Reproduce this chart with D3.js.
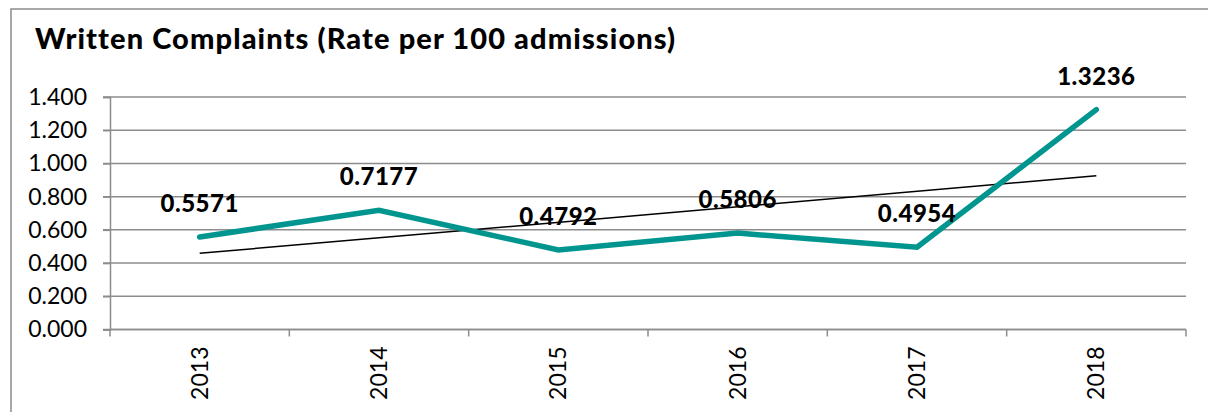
<!DOCTYPE html>
<html>
<head>
<meta charset="utf-8">
<script src="https://cdn.jsdelivr.net/npm/d3@7"></script>
<style>
  body { margin: 0; background: #fff; }
  text { font-family: Lato, "Open Sans", sans-serif; }
</style>
</head>
<body>
<div id="chart"></div>
<script>
// chart data
const years = ['2013', '2014', '2015', '2016', '2017', '2018']
const rates = [0.5571, 0.7177, 0.4792, 0.5806, 0.4954, 1.3236]
const yTicks = [0, 0.2, 0.4, 0.6, 0.8, 1.0, 1.2, 1.4]

const W = 1208, H = 412
const margin = { left: 110, right: 22, top: 97, bottom: 82 }

const svg = d3.select('#chart')
    .append('svg')
        .attr('width', W)
        .attr('height', H)

// outer frame (runs off the right and bottom edges)
svg.append('rect')
    .attr('x', 11).attr('y', 9)
    .attr('width', W).attr('height', H)
    .attr('fill', 'none')
    .attr('stroke', '#8c8c8c')
    .attr('stroke-width', 1.5)

svg.append('text')
    .attr('x', 35).attr('y', 49)
    .attr('font-size', 29).attr('font-weight', 900)
    .attr('letter-spacing', 1.1)
    .text('Written Complaints (Rate per 100 admissions)')

const x = d3.scaleBand()
    .domain(years)
    .range([margin.left, W - margin.right])

const y = d3.scaleLinear()
    .domain([0, 1.4])
    .range([H - margin.bottom - 0.5, margin.top])

// gridlines
svg.append('g')
    .selectAll('line')
    .data(yTicks)
    .enter()
    .append('line')
        .attr('x1', margin.left - 7)
        .attr('x2', W - margin.right)
        .attr('y1', d => y(d))
        .attr('y2', d => y(d))
        .attr('stroke', '#8c8c8c')
        .attr('stroke-width', 1.5)

// y axis
const yAxis = svg.append('g')
    .attr('transform', `translate(${margin.left},0)`)
    .call(d3.axisLeft(y).tickValues(yTicks).tickFormat(d3.format('.3f')).tickSize(7).tickPadding(16))
yAxis.select('.domain').attr('stroke', '#8c8c8c').attr('stroke-width', 1.5)
yAxis.selectAll('line').attr('stroke', '#8c8c8c').attr('stroke-width', 1.5)
yAxis.selectAll('text').attr('font-size', 23).attr('fill', '#000')

// x axis with ticks on band boundaries
const xAxisG = svg.append('g')
    .attr('transform', `translate(0,${y(0)})`)
xAxisG.append('line')
    .attr('x1', margin.left).attr('x2', W - margin.right)
    .attr('stroke', '#8c8c8c').attr('stroke-width', 1.5)
xAxisG.selectAll('.tick')
    .data(years.concat(['end']))
    .enter()
    .append('line')
        .attr('x1', (d, i) => i < years.length ? x(d) : x.range()[1])
        .attr('x2', (d, i) => i < years.length ? x(d) : x.range()[1])
        .attr('y1', 0).attr('y2', 7)
        .attr('stroke', '#8c8c8c').attr('stroke-width', 1.5)
xAxisG.selectAll('.yr')
    .data(years)
    .enter()
    .append('text')
        .attr('transform', d => `translate(${x(d) + x.bandwidth() / 2 + 8},17) rotate(-90)`)
        .attr('text-anchor', 'end')
        .attr('font-size', 23)
        .text(d => d)

// linear trendline
const n = rates.length
const xs = rates.map((d, i) => i + 1)
const mx = d3.mean(xs), my = d3.mean(rates)
const slope = d3.sum(xs.map((v, i) => (v - mx) * (rates[i] - my))) / d3.sum(xs.map(v => (v - mx) ** 2))
const icpt = my - slope * mx
const cx = d => x(d) + x.bandwidth() / 2

svg.append('line')
    .attr('x1', cx(years[0])).attr('y1', y(icpt + slope * 1))
    .attr('x2', cx(years[n - 1])).attr('y2', y(icpt + slope * n))
    .attr('stroke', '#000').attr('stroke-width', 1.5)

// data line
const line = d3.line()
    .x((d, i) => cx(years[i]))
    .y(d => y(d))

svg.append('path')
    .datum(rates)
    .attr('d', line)
    .attr('fill', 'none')
    .attr('stroke', '#00968f')
    .attr('stroke-width', 5.5)
    .attr('stroke-linejoin', 'miter')
    .attr('stroke-linecap', 'round')

svg.selectAll('.lbl')
    .data(rates)
    .enter()
    .append('text')
        .attr('x', (d, i) => cx(years[i]))
        .attr('y', d => y(d) - 25)
        .attr('text-anchor', 'middle')
        .attr('font-size', 24).attr('font-weight', 900)
        .attr('letter-spacing', 0.5)
        .text(d => d.toFixed(4))
</script>
</body>
</html>
